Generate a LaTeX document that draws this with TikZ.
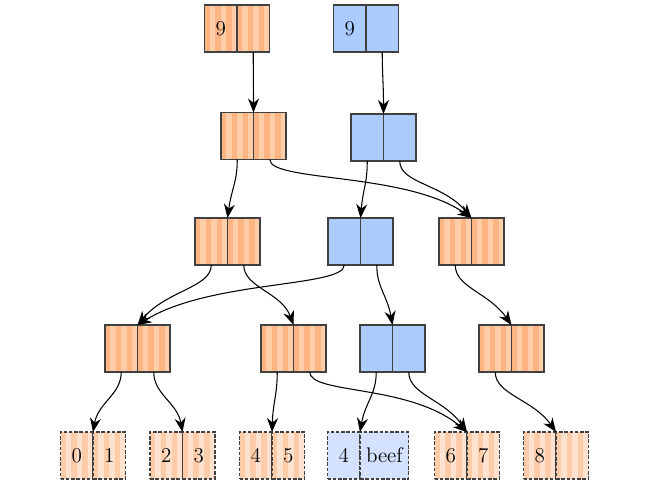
\documentclass[tikz,border=0pt]{standalone}
\usetikzlibrary{arrows.meta}

\definecolor{ordark}{HTML}{FFB583}
\definecolor{orlight}{HTML}{FFCDA8}
\definecolor{lfdark}{HTML}{FFCCA9}
\definecolor{lflight}{HTML}{FFE3D0}
\definecolor{blfill}{HTML}{AACCFF}
\definecolor{bllight}{HTML}{D4E2FF}

\tikzset{
  cell/.style={draw=black!75, line width=0.6pt, minimum width=0.65cm,
    minimum height=0.94cm, inner sep=0pt, outer sep=0pt, font=\large},
  stripes/.style 2 args={fill=#1, path picture={
    \foreach \k in {1,3,5}
      \fill[#2] ([xshift=\k*0.1083cm]path picture bounding box.south west)
        rectangle +(0.1083cm,1cm);}},
  onode/.style={cell, stripes={ordark}{orlight}},
  bnode/.style={cell, fill=blfill},
  oleaf/.style={cell, dash pattern=on 2pt off 1pt, inner xsep=0.12cm,
    stripes={lfdark}{lflight}},
  bleaf/.style={cell, dash pattern=on 2pt off 1pt, inner xsep=0.12cm,
    fill=bllight},
  link/.style={-{Stealth[length=2.8mm,width=2.2mm,inset=0.9mm]},
    line width=0.6pt, out=-90, out distance=0.45cm}
}

\begin{document}
\begin{tikzpicture}[x=0.02cm, y=0.02cm]
  \useasboundingbox (0,0) rectangle (650,-484);

  % cells: name / divider x / centre y / style / left / right
  \foreach \n/\x/\y/\s/\a/\b in {
      r0/237/-28.5/onode/9/,
      r1/366/-28.5/bnode/9/,
      a/253.5/-136/onode//,
      b/383.5/-137.5/bnode//,
      c/227.5/-241.5/onode//,
      d/360.5/-241.5/bnode//,
      e/471.5/-241.5/onode//,
      f/137.5/-348.5/onode//,
      g/293.5/-348.5/onode//,
      h/392.5/-348.5/bnode//,
      i/511.5/-348.5/onode//,
      p/93/-455.5/oleaf/0/1,
      q/182.5/-455.5/oleaf/2/3,
      s/272/-455.5/oleaf/4/5,
      t/360/-455.5/bleaf/4/beef,
      u/467/-455.5/oleaf/6/7,
      v/556/-455.5/oleaf/8/}
  {
    \node[\s, anchor=east] (\n-l) at (\x,\y) {\a};
    \node[\s, anchor=west] (\n-r) at (\x,\y) {\b};
  }

  % pointers: from / to / entry angle / entry distance
  \foreach \from/\to/\ang/\dist in {
      r0-r/a/90/0.6, r1-r/b/90/0.6,
      a-l/c/82/0.6, a-r/e/145/1.6, b-l/d/85/0.6, b-r/e/130/0.9,
      c-l/f/50/0.9, c-r/g/110/0.7, d-l/f/32/1.7, d-r/h/100/0.6,
      e-l/i/125/0.8,
      f-l/p/80/0.6, f-r/q/100/0.6, g-l/s/88/0.6, g-r/u/140/1.5,
      h-l/t/80/0.6, h-r/u/125/0.8, i-l/v/125/0.8}
    \draw[link, in=\ang, in distance=\dist cm] (\from.south) to (\to-l.north east);
\end{tikzpicture}
\end{document}
